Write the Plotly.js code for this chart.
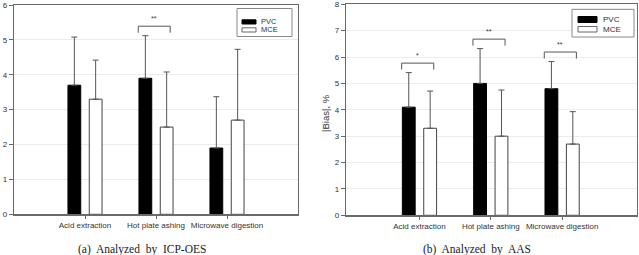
<!DOCTYPE html>
<html><head><meta charset="utf-8">
<script src="https://cdn.plot.ly/plotly-3.0.1.min.js"></script>
<style>html,body{margin:0;padding:0;background:#fff;} #chart{width:639px;height:255px;}</style>
</head><body><div id="chart"></div>
<script>
// Digestion methods on the x axis
const methods = ['Acid extraction', 'Hot plate ashing', 'Microwave digestion'];

// (a) ICP-OES: mean |bias| and upper SD
const icpPvc = [3.7, 3.9, 1.9];
const icpPvcSd = [1.38, 1.22, 1.47];
const icpMce = [3.3, 2.5, 2.7];
const icpMceSd = [1.12, 1.58, 2.03];

// (b) AAS: mean |bias| and upper SD
const aasPvc = [4.1, 5.0, 4.8];
const aasPvcSd = [1.31, 1.32, 1.03];
const aasMce = [3.3, 3.0, 2.7];
const aasMceSd = [1.41, 1.75, 1.23];

// Significance marks: method index and label
const icpSigIdx = [1];
const icpSigLbl = ['**'];
const aasSigIdx = [0, 1, 2];
const aasSigLbl = ['*', '**', '**'];

const W = 639, H = 255;
const px = x => x / W;
const py = y => 1 - y / H;
const idx = methods.map((_, i) => i);

const FONT = 'Liberation Sans, Arial, sans-serif';
const AX = '#6a6a6a';
const TXT = '#333333';

// Panel geometry (pixels)
const panels = [
  {x0: 14, x1: 298, y0: 5, y1: 214.3, xr: [-1, 3], yr: [0, 6], ya: 'y'},
  {x0: 346, x1: 637, y0: 4.3, y1: 215.3, xr: [-1.03, 3.05], yr: [0, 8], ya: 'y2'}
];

function barTrace(y, sd, xa, ya, fill, line, name) {
  return {
    type: 'bar', x: idx, y: y, xaxis: xa, yaxis: ya, name: name,
    marker: {color: fill, line: {color: line, width: 1}},
    error_y: {type: 'data', symmetric: false, array: sd, arrayminus: sd.map(() => 0),
              color: '#555', thickness: 1, width: 3},
    showlegend: false, hoverinfo: 'skip'
  };
}

const data = [
  barTrace(icpPvc, icpPvcSd, 'x', 'y', '#000', '#000', 'PVC'),
  barTrace(icpMce, icpMceSd, 'x', 'y', '#fff', '#444', 'MCE'),
  barTrace(aasPvc, aasPvcSd, 'x2', 'y2', '#000', '#000', 'PVC'),
  barTrace(aasMce, aasMceSd, 'x2', 'y2', '#fff', '#444', 'MCE')
];

function xAxis(p) {
  return {
    domain: [px(p.x0), px(p.x1)], range: p.xr, anchor: p.ya,
    tickvals: idx, ticktext: methods, ticks: 'outside', ticklen: 3, tickcolor: AX,
    showline: true, linecolor: AX, linewidth: 1.2, mirror: true,
    showgrid: false, zeroline: false,
    tickfont: {family: FONT, size: 8, color: TXT}
  };
}
function yAxis(p, xa) {
  return {
    domain: [py(p.y1), py(p.y0)], range: p.yr, anchor: xa, dtick: 1,
    ticks: 'outside', ticklen: 4, tickcolor: AX,
    showline: true, linecolor: AX, linewidth: 1.2, mirror: true,
    showgrid: true, gridcolor: '#ececec', gridwidth: 1, zeroline: false,
    tickfont: {family: FONT, size: 8, color: TXT}
  };
}

const shapes = [];
const annotations = [];

// Significance brackets sit just above the PVC error bar
function brackets(p, xref, yref, pvc, sd, sigIdx, sigLbl) {
  const unit = (p.y1 - p.y0) / (p.yr[1] - p.yr[0]);
  sigIdx.forEach((i, k) => {
    const base = pvc[i] + sd[i] + 3 / unit;
    const top = base + 6.5 / unit;
    const xl = i - 0.25, xr = i + 0.2;
    shapes.push({type: 'path', xref: xref, yref: yref,
      path: `M${xl},${base} L${xl},${top} L${xr},${top} L${xr},${base}`,
      line: {color: '#555', width: 1}});
    annotations.push({xref: xref, yref: yref, x: (xl + xr) / 2, y: top, yshift: 2,
      text: sigLbl[k], showarrow: false, yanchor: 'bottom',
      font: {family: FONT, size: 7, color: TXT}});
  });
}
brackets(panels[0], 'x', 'y', icpPvc, icpPvcSd, icpSigIdx, icpSigLbl);
brackets(panels[1], 'x2', 'y2', aasPvc, aasPvcSd, aasSigIdx, aasSigLbl);

// Boxed legends drawn in paper space
function legendBox(b, sw, tx, rows, fs) {
  shapes.push({type: 'rect', xref: 'paper', yref: 'paper',
    x0: px(b[0]), x1: px(b[2]), y0: py(b[3]), y1: py(b[1]),
    line: {color: '#888', width: 1}, fillcolor: '#fff'});
  const styles = [{fill: '#000', line: '#000'}, {fill: '#fff', line: '#666'}];
  ['PVC', 'MCE'].forEach((name, k) => {
    const r = rows[k];
    shapes.push({type: 'rect', xref: 'paper', yref: 'paper',
      x0: px(sw[0]), x1: px(sw[1]), y0: py(r[1]), y1: py(r[0]),
      line: {color: styles[k].line, width: 1}, fillcolor: styles[k].fill});
    annotations.push({xref: 'paper', yref: 'paper', x: px(tx), y: py((r[0] + r[1]) / 2),
      xanchor: 'left', yanchor: 'middle', text: name, showarrow: false,
      font: {family: FONT, size: fs, color: TXT}});
  });
}
legendBox([237, 8.5, 292, 36.5], [242, 256], 258.5, [[19.8, 24], [27.8, 32]], 7.5);
legendBox([572, 9.3, 634, 37], [578, 597], 600.5, [[16.5, 22.5], [26.5, 32]], 8);

// Right panel axis title
annotations.push({xref: 'paper', yref: 'paper', x: px(325), y: py(113), textangle: -90,
  text: '|Bias|, %', showarrow: false, xanchor: 'center', yanchor: 'middle',
  font: {family: FONT, size: 9.5, color: TXT}});

// Panel captions
annotations.push({xref: 'paper', yref: 'paper', x: px(142), y: py(249),
  text: '(a)  Analyzed  by  ICP-OES', showarrow: false, xanchor: 'center', yanchor: 'middle',
  font: {family: 'Liberation Serif, Times New Roman, serif', size: 11.5, color: '#222'}});
annotations.push({xref: 'paper', yref: 'paper', x: px(477), y: py(249),
  text: '(b)  Analyzed  by  AAS', showarrow: false, xanchor: 'center', yanchor: 'middle',
  font: {family: 'Liberation Serif, Times New Roman, serif', size: 11.5, color: '#222'}});

const layout = {
  width: W, height: H, margin: {l: 0, r: 0, t: 0, b: 0},
  paper_bgcolor: '#fff', plot_bgcolor: '#fff',
  barmode: 'group', bargap: 0.4, bargroupgap: 0.4,
  showlegend: false,
  xaxis: xAxis(panels[0]), yaxis: yAxis(panels[0], 'x'),
  xaxis2: xAxis(panels[1]), yaxis2: yAxis(panels[1], 'x2'),
  shapes: shapes, annotations: annotations
};

Plotly.newPlot('chart', data, layout, {staticPlot: true, displayModeBar: false});
</script>
</body></html>
